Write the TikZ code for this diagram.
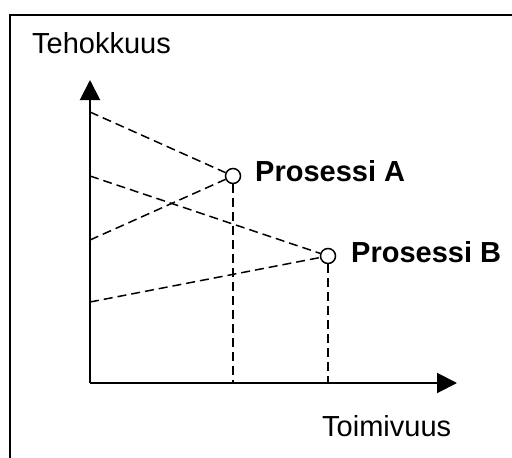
\documentclass[tikz,border=0pt]{standalone}
\usepackage{fontspec}
\setmainfont{Liberation Sans}
\usetikzlibrary{arrows.meta}
\begin{document}
\begin{tikzpicture}[x=1pt,y=-1pt,
  axis/.style={line width=2pt,-{Triangle[length=20pt,width=20pt]}},
  guide/.style={line width=1.5pt,dash pattern=on 9pt off 5pt},
  proc/.style={circle,draw,line width=1.5pt,fill=white,minimum size=15pt,inner sep=0pt},
  lbl/.style={anchor=base west,inner sep=0pt,font=\fontsize{29}{32}\selectfont},
  blbl/.style={lbl,font=\fontsize{29}{32}\selectfont\bfseries}]
  \useasboundingbox (0,0) rectangle (512,458);
  \clip (0,0) rectangle (512,458);
  % outer frame (runs past the page on the right and bottom)
  \draw[line width=2pt] (10,15) rectangle (530,480);

  % axes
  \coordinate (o) at (90,383);
  \coordinate (ytip) at (90,80);
  \coordinate (xtip) at (457,383);
  \draw[axis] (o) -- (ytip);
  \draw[axis] (o) -- (xtip);

  % operating points
  \node[proc] (pa) at (233,176) {};
  \node[proc] (pb) at (328,256) {};

  % points on the vertical axis
  \coordinate (ya1) at (90,112);
  \coordinate (yb1) at (90,176);
  \coordinate (ya2) at (90,240);
  \coordinate (yb2) at (90,302);
  % foot points on the horizontal axis
  \coordinate (xa) at (233,383);
  \coordinate (xb) at (328,383);

  \draw[guide] (ya1) -- (pa);
  \draw[guide] (ya2) -- (pa);
  \draw[guide] (yb1) -- (pb);
  \draw[guide] (yb2) -- (pb);
  \draw[guide] (pa) -- (xa);
  \draw[guide] (pb) -- (xb);

  % labels
  \node[lbl] (ylab) at (32,53) {Tehokkuus};
  \node[lbl] (xlab) at (322,436) {Toimivuus};
  \node[blbl] (la) at (255,181) {Prosessi A};
  \node[blbl] (lb) at (351,262) {Prosessi B};
\end{tikzpicture}
\end{document}
